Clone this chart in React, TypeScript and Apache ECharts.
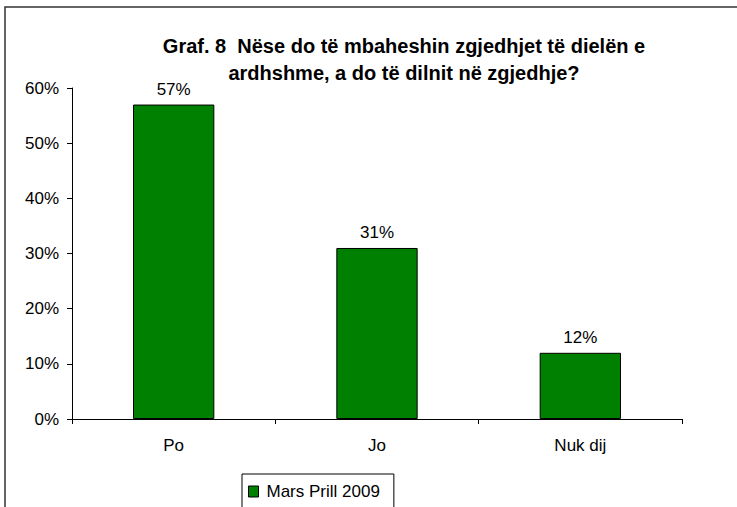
import React, { useEffect, useRef } from "react";
import * as echarts from "echarts";

const categories = ["Po", "Jo", "Nuk dij"];
const values = [57, 31, 12];
const seriesName = "Mars Prill 2009";
const titleText = "Graf. 8  Nëse do të mbaheshin zgjedhjet të dielën e\nardhshme, a do të dilnit në zgjedhje?";

export default function App() {
  const ref = useRef<HTMLDivElement>(null);
  useEffect(() => {
    const chart = echarts.init(ref.current!, null, { renderer: "svg" });
    const font = "Liberation Sans, Arial, sans-serif";
    chart.setOption({
      animation: false,
      backgroundColor: "#fff",
      textStyle: { fontFamily: font },
      title: {
        text: titleText,
        left: 399,
        top: 27,
        textAlign: "center",
        textStyle: { fontFamily: font, fontSize: 20, fontWeight: "bold", color: "#000", lineHeight: 27 },
      },
      graphic: [
        {
          type: "rect",
          shape: { x: 5, y: 7, width: 800, height: 600 },
          style: { fill: "none", stroke: "#333", lineWidth: 1.5 },
          silent: true,
        },
      ],
      grid: { left: 72, right: 55, top: 88, bottom: 88 },
      legend: {
        left: 242,
        top: 474,
        data: [seriesName],
        icon: "rect",
        itemWidth: 10,
        itemHeight: 11,
        padding: [9, 14, 14, 6],
        borderColor: "#000",
        borderWidth: 1,
        itemStyle: { borderColor: "#000", borderWidth: 1 },
        textStyle: { fontFamily: font, fontSize: 17, color: "#000", padding: [0, 0, 0, 3] },
      },
      xAxis: {
        type: "category",
        data: categories,
        axisLine: { lineStyle: { color: "#000", width: 1 } },
        axisTick: { show: true, inside: false, length: 5, lineStyle: { color: "#000" } },
        axisLabel: { fontFamily: font, fontSize: 17, color: "#000", margin: 18 },
      },
      yAxis: {
        type: "value",
        min: 0,
        max: 60,
        interval: 10,
        axisLine: { show: true, lineStyle: { color: "#000", width: 1 } },
        axisTick: { show: true, length: 5, lineStyle: { color: "#000" } },
        splitLine: { show: false },
        axisLabel: { fontFamily: font, fontSize: 17, color: "#000", formatter: "{value}%", margin: 13 },
      },
      series: [
        {
          name: seriesName,
          type: "bar",
          data: values,
          barWidth: "40%",
          itemStyle: { color: "#008000", borderColor: "#000", borderWidth: 1 },
          label: {
            show: true,
            position: "top",
            distance: 7,
            formatter: "{c}%",
            fontFamily: font,
            fontSize: 17,
            color: "#000",
          },
        },
      ],
    });
    return () => chart.dispose();
  }, []);
  return (
    <div
      ref={ref}
      style={{ position: "absolute", left: 0, top: 0, width: 737, height: 507 }}
    />
  );
}
